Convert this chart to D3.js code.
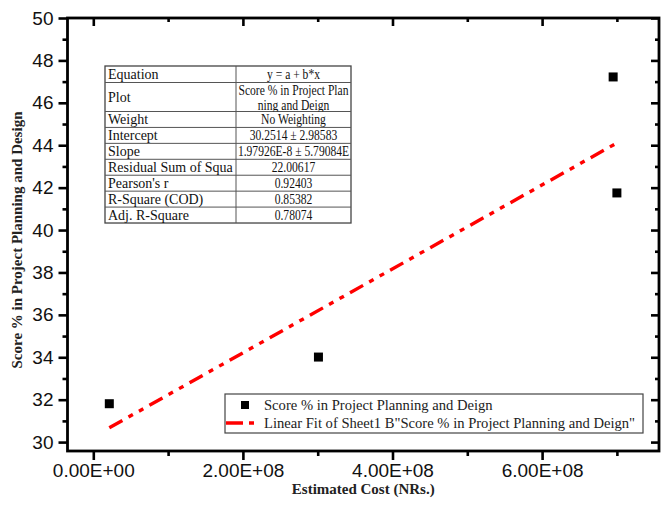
<!DOCTYPE html>
<html>
<head>
<meta charset="utf-8">
<script src="https://cdn.jsdelivr.net/npm/d3@7"></script>
<style>
  body { margin: 0; background: #fff; }
  svg { display: block; }
</style>
</head>
<body>
<svg id="chart" width="668" height="515"></svg>
<script>
// scatter points (Estimated Cost, Score %)
const costs = [2.14e7, 3.01e8, 6.95e8, 7.0e8];
const scores = [31.81, 34.01, 47.22, 41.75];

// linear fit end points
const fitCosts = [2.14e7, 7.0e8];
const fitScores = [30.675, 44.107];

const xTicks = [0, 2e8, 4e8, 6e8];
const xTickLabels = ['0.00E+00', '2.00E+08', '4.00E+08', '6.00E+08'];
const xMinor = [1e8, 3e8, 5e8, 7e8];
const yTicks = [30, 32, 34, 36, 38, 40, 42, 44, 46, 48, 50];
const yMinor = [31, 33, 35, 37, 39, 41, 43, 45, 47, 49];

const tableLabels = ['Equation', 'Plot', 'Weight', 'Intercept', 'Slope',
  'Residual Sum of Squa', 'Pearson\'s r', 'R-Square (COD)', 'Adj. R-Square'];
const tableValues = ['y = a + b*x', 'Score % in Project Plan|ning and Deign', 'No Weighting',
  '30.2514 \u00b1 2.98583', '1.97926E-8 \u00b1 5.79084E', '22.00617', '0.92403', '0.85382', '0.78074'];

const legendLabels = ['Score % in Project Planning and Deign',
  'Linear Fit of Sheet1 B"Score % in Project Planning and Deign"'];

const svg = d3.select('#chart');
const box = {left: 67.5, right: 659, top: 18, bottom: 451};

const x = d3.scaleLinear()
  .domain([-0.345e8, 7.563e8])
  .range([box.left, box.right]);

const y = d3.scaleLinear()
  .domain([29.58, 50])
  .range([box.bottom, box.top]);

const serif = '"Liberation Serif", "Times New Roman", serif';
const sans = '"Liberation Sans", Arial, sans-serif';

// axes: bottom/left ticks point out, top/right point in
const axisStyle = function(g) {
  g.select('.domain').remove();
  g.selectAll('line').attr('stroke', '#000').attr('stroke-width', 2.6);
  g.selectAll('text').attr('font-family', sans).attr('font-size', 19).attr('fill', '#111');
};

svg.append('g')
  .attr('transform', 'translate(0,' + box.bottom + ')')
  .call(d3.axisBottom(x).tickValues(xTicks)
    .tickFormat(function(d, i) { return xTickLabels[i]; })
    .tickSize(9).tickPadding(4))
  .call(axisStyle);

svg.append('g')
  .attr('transform', 'translate(0,' + box.bottom + ')')
  .call(d3.axisBottom(x).tickValues(xMinor).tickFormat('').tickSize(5))
  .call(axisStyle);

svg.append('g')
  .attr('transform', 'translate(0,' + box.top + ')')
  .call(d3.axisBottom(x).tickValues(xTicks).tickFormat('').tickSize(8))
  .call(axisStyle);

svg.append('g')
  .attr('transform', 'translate(0,' + box.top + ')')
  .call(d3.axisBottom(x).tickValues(xMinor).tickFormat('').tickSize(4))
  .call(axisStyle);

svg.append('g')
  .attr('transform', 'translate(' + box.left + ',0)')
  .call(d3.axisLeft(y).tickValues(yTicks).tickSize(9).tickPadding(5))
  .call(axisStyle);

svg.append('g')
  .attr('transform', 'translate(' + box.left + ',0)')
  .call(d3.axisLeft(y).tickValues(yMinor).tickFormat('').tickSize(5))
  .call(axisStyle);

svg.append('g')
  .attr('transform', 'translate(' + box.right + ',0)')
  .call(d3.axisLeft(y).tickValues(yTicks).tickFormat('').tickSize(8))
  .call(axisStyle);

svg.append('g')
  .attr('transform', 'translate(' + box.right + ',0)')
  .call(d3.axisLeft(y).tickValues(yMinor).tickFormat('').tickSize(4))
  .call(axisStyle);

svg.append('rect')
  .attr('x', box.left)
  .attr('y', box.top)
  .attr('width', box.right - box.left)
  .attr('height', box.bottom - box.top)
  .attr('fill', 'none')
  .attr('stroke', '#000')
  .attr('stroke-width', 2.8);

// axis titles
svg.append('text')
  .attr('x', (box.left + box.right) / 2)
  .attr('y', 494)
  .attr('text-anchor', 'middle')
  .attr('font-family', serif)
  .attr('font-weight', 'bold')
  .attr('font-size', 15)
  .attr('fill', '#222')
  .text('Estimated Cost (NRs.)');

svg.append('text')
  .attr('transform', 'translate(22,240) rotate(-90)')
  .attr('text-anchor', 'middle')
  .attr('font-family', serif)
  .attr('font-weight', 'bold')
  .attr('font-size', 15)
  .attr('fill', '#222')
  .text('Score % in Project Planning and Design');

// fit line
const fitData = fitCosts.map(function(c, i) { return [c, fitScores[i]]; });
svg.append('path')
  .datum(fitData)
  .attr('fill', 'none')
  .attr('stroke', '#ff0000')
  .attr('stroke-width', 3.4)
  .attr('stroke-dasharray', '15,7,5,7,5,7')
  .attr('d', d3.line()
    .x(function(d) { return x(d[0]); })
    .y(function(d) { return y(d[1]); }));

// points
svg.append('g')
  .selectAll('rect')
  .data(costs)
  .enter().append('rect')
  .attr('x', function(d) { return x(d) - 4.5; })
  .attr('y', function(d, i) { return y(scores[i]) - 4.5; })
  .attr('width', 9)
  .attr('height', 9)
  .attr('fill', '#000');

// statistics table
const tb = {x0: 105, x1: 236, x2: 351, top: 66};
const rowH = [16.5, 29].concat(d3.range(7).map(function() { return 15.93; }));
const rowTop = [];
rowH.reduce(function(acc, h) { rowTop.push(acc); return acc + h; }, tb.top);
const tbBottom = rowTop[rowTop.length - 1] + rowH[rowH.length - 1];
const cx = (tb.x1 + tb.x2) / 2;

const table = svg.append('g').attr('font-family', serif).attr('font-size', 14).attr('fill', '#111');

const defs = svg.append('defs');
defs.append('clipPath').attr('id', 'valclip')
  .append('rect')
  .attr('x', tb.x1)
  .attr('y', tb.top)
  .attr('width', tb.x2 - tb.x1)
  .attr('height', tbBottom - tb.top);

defs.append('clipPath').attr('id', 'plotclip')
  .append('rect')
  .attr('x', tb.x1)
  .attr('y', rowTop[1])
  .attr('width', tb.x2 - tb.x1)
  .attr('height', rowH[1]);

table.append('rect')
  .attr('x', tb.x0)
  .attr('y', tb.top)
  .attr('width', tb.x2 - tb.x0)
  .attr('height', tbBottom - tb.top)
  .attr('fill', '#fff')
  .attr('stroke', '#444')
  .attr('stroke-width', 1.3);

table.selectAll('line.row')
  .data(rowTop.slice(1))
  .enter().append('line')
  .attr('class', 'row')
  .attr('x1', tb.x0).attr('x2', tb.x2)
  .attr('y1', function(d) { return d; })
  .attr('y2', function(d) { return d; })
  .attr('stroke', '#555')
  .attr('stroke-width', 1);

table.append('line')
  .attr('x1', tb.x1).attr('x2', tb.x1)
  .attr('y1', tb.top).attr('y2', tbBottom)
  .attr('stroke', '#555')
  .attr('stroke-width', 1);

table.selectAll('text.lab')
  .data(tableLabels)
  .enter().append('text')
  .attr('class', 'lab')
  .attr('x', tb.x0 + 3)
  .attr('y', function(d, i) { return rowTop[i] + rowH[i] / 2 + 4.8; })
  .text(function(d) { return d; });

// value column: clipped to the cell, text a little condensed as in the source
tableValues.forEach(function(v, i) {
  const lines = v.split('|');
  const cell = table.append('g')
    .attr('clip-path', lines.length > 1 ? 'url(#plotclip)' : 'url(#valclip)');
  const t = cell.append('g')
    .attr('transform', 'translate(' + cx + ',0) scale(0.84,1)')
    .attr('font-size', 13.8)
    .append('text')
    .attr('text-anchor', 'middle')
    .attr('x', 0);
  if (lines.length > 1) {
    lines.forEach(function(l, j) {
      t.append('tspan')
        .attr('x', 0)
        .attr('y', rowTop[i] + 13 + j * 14.5)
        .text(l);
    });
  } else {
    t.attr('y', rowTop[i] + rowH[i] / 2 + 4.8).text(v);
  }
});

// legend
const lg = svg.append('g').attr('font-family', serif).attr('font-size', 14.6).attr('fill', '#222');
lg.append('rect')
  .attr('x', 225).attr('y', 394)
  .attr('width', 418).attr('height', 39)
  .attr('fill', '#fff')
  .attr('stroke', '#444')
  .attr('stroke-width', 1.2);

lg.append('rect')
  .attr('x', 241).attr('y', 401)
  .attr('width', 8).attr('height', 8)
  .attr('fill', '#000');

lg.append('path')
  .attr('d', d3.line()([[226, 423], [254, 423]]))
  .attr('stroke', '#ff0000')
  .attr('stroke-width', 3.4)
  .attr('stroke-dasharray', '17,6,5,7');

lg.selectAll('text')
  .data(legendLabels)
  .enter().append('text')
  .attr('x', 264)
  .attr('y', function(d, i) { return 410 + i * 18; })
  .text(function(d) { return d; });
</script>
</body>
</html>
